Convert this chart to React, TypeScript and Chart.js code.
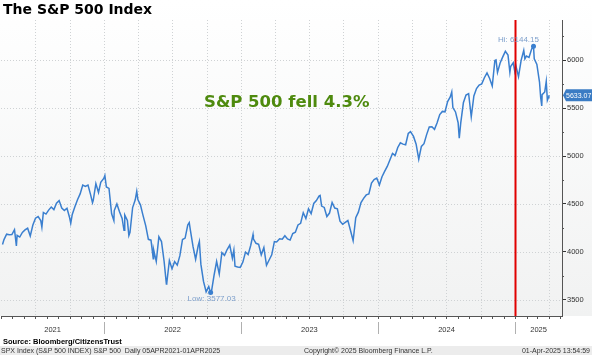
import React, { useEffect, useRef } from "react";
import { Chart, registerables } from "chart.js";

Chart.register(...registerables);

const DATES: string[] = [
  "2021-04-05","2021-04-09","2021-04-16","2021-04-23","2021-04-30","2021-05-07","2021-05-12","2021-05-14","2021-05-21","2021-05-28",
  "2021-06-04","2021-06-11","2021-06-18","2021-06-25","2021-07-02","2021-07-09","2021-07-16","2021-07-19","2021-07-23","2021-07-30",
  "2021-08-06","2021-08-13","2021-08-20","2021-08-27","2021-09-03","2021-09-10","2021-09-17","2021-09-24","2021-10-01","2021-10-04",
  "2021-10-08","2021-10-15","2021-10-22","2021-10-29","2021-11-05","2021-11-12","2021-11-19","2021-11-26","2021-12-01","2021-12-03",
  "2021-12-10","2021-12-17","2021-12-23","2021-12-31",
  "2022-01-03","2022-01-07","2022-01-14","2022-01-21","2022-01-27","2022-01-28","2022-02-04","2022-02-11","2022-02-18","2022-02-23",
  "2022-02-25","2022-03-04","2022-03-08","2022-03-11","2022-03-18","2022-03-25","2022-03-29","2022-04-01","2022-04-08","2022-04-14",
  "2022-04-22","2022-04-29","2022-05-06","2022-05-12","2022-05-13","2022-05-20","2022-05-27","2022-06-03","2022-06-10","2022-06-16",
  "2022-06-17","2022-06-24","2022-07-01","2022-07-08","2022-07-15","2022-07-22","2022-07-29","2022-08-05","2022-08-12","2022-08-16",
  "2022-08-19","2022-08-26","2022-09-02","2022-09-09","2022-09-12","2022-09-16","2022-09-23","2022-09-30","2022-10-07","2022-10-12",
  "2022-10-14","2022-10-21","2022-10-28","2022-11-04","2022-11-11","2022-11-18","2022-11-25","2022-12-02","2022-12-09","2022-12-13",
  "2022-12-16","2022-12-23","2022-12-30",
  "2023-01-06","2023-01-13","2023-01-20","2023-01-27","2023-02-02","2023-02-03","2023-02-10","2023-02-17","2023-02-24","2023-03-03",
  "2023-03-10","2023-03-17","2023-03-24","2023-03-31","2023-04-06","2023-04-14","2023-04-21","2023-04-28","2023-05-05","2023-05-12",
  "2023-05-19","2023-05-26","2023-06-02","2023-06-09","2023-06-16","2023-06-23","2023-06-30","2023-07-07","2023-07-14","2023-07-21",
  "2023-07-28","2023-07-31","2023-08-04","2023-08-11","2023-08-18","2023-08-25","2023-09-01","2023-09-08","2023-09-15","2023-09-22",
  "2023-09-29","2023-10-06","2023-10-13","2023-10-20","2023-10-27","2023-11-03","2023-11-10","2023-11-17","2023-11-24","2023-12-01",
  "2023-12-08","2023-12-15","2023-12-22","2023-12-29",
  "2024-01-05","2024-01-12","2024-01-19","2024-01-26","2024-02-02","2024-02-09","2024-02-16","2024-02-23","2024-03-01","2024-03-08",
  "2024-03-15","2024-03-22","2024-03-28","2024-04-05","2024-04-12","2024-04-19","2024-04-26","2024-05-03","2024-05-10","2024-05-17",
  "2024-05-24","2024-05-31","2024-06-07","2024-06-14","2024-06-21","2024-06-28","2024-07-05","2024-07-12","2024-07-16","2024-07-19",
  "2024-07-26","2024-08-02","2024-08-05","2024-08-09","2024-08-16","2024-08-23","2024-08-30","2024-09-06","2024-09-13","2024-09-20",
  "2024-09-27","2024-10-04","2024-10-11","2024-10-18","2024-10-25","2024-11-01","2024-11-08","2024-11-11","2024-11-15","2024-11-22",
  "2024-11-29","2024-12-06","2024-12-13","2024-12-18","2024-12-20","2024-12-27","2024-12-31",
  "2025-01-03","2025-01-10","2025-01-17","2025-01-24","2025-01-27","2025-01-31","2025-02-07","2025-02-14","2025-02-19","2025-02-21",
  "2025-02-28","2025-03-07","2025-03-10","2025-03-13","2025-03-14","2025-03-21","2025-03-25","2025-03-28","2025-03-31","2025-04-01"
];

const CLOSES: number[] = [
  4077.9,4128.8,4185.5,4180.2,4181.2,4232.6,4063.0,4173.9,4155.9,4204.1,
  4229.9,4247.4,4166.5,4280.7,4352.3,4369.6,4327.2,4258.5,4411.8,4395.3,
  4436.5,4468.0,4441.7,4509.4,4535.4,4458.6,4432.9,4455.5,4357.0,4300.5,
  4391.3,4471.4,4544.9,4605.4,4697.5,4682.9,4697.9,4594.6,4513.0,4538.4,
  4712.0,4620.6,4725.8,4766.2,
  4796.6,4677.0,4662.9,4397.9,4326.5,4431.9,4500.5,4418.6,4348.9,4225.5,
  4384.7,4328.9,4170.7,4204.3,4463.1,4543.1,4631.6,4545.9,4488.3,4392.6,
  4271.8,4131.9,4123.3,3930.1,4023.9,3901.4,4158.2,4108.5,3900.9,3666.8,
  3674.8,3911.7,3825.3,3899.4,3863.2,3961.6,4130.3,4145.2,4280.2,4305.2,
  4228.5,4057.7,3924.3,4067.4,4110.4,3873.3,3693.2,3585.6,3639.7,3577.0,
  3583.1,3752.8,3901.1,3770.6,3992.9,3965.3,4026.1,4071.7,3934.4,4019.7,
  3852.4,3844.8,3839.5,
  3895.1,3999.1,3972.6,4070.6,4179.8,4136.5,4090.5,4079.1,3970.0,4045.6,
  3861.6,3916.6,3971.0,4109.3,4105.0,4137.6,4133.5,4169.5,4136.3,4124.1,
  4192.0,4205.5,4282.4,4298.9,4409.6,4348.3,4450.4,4399.0,4505.4,4536.3,
  4582.2,4589.0,4478.0,4464.1,4369.7,4405.7,4515.8,4457.5,4450.3,4320.1,
  4288.1,4308.5,4327.8,4224.2,4117.4,4358.3,4415.2,4514.0,4559.3,4594.6,
  4604.4,4719.2,4754.6,4769.8,
  4697.2,4783.8,4839.8,4891.0,4958.6,5026.6,5005.6,5088.8,5137.1,5123.7,
  5117.1,5234.2,5254.4,5204.3,5123.4,4967.2,5100.0,5127.8,5222.7,5303.3,
  5304.7,5277.5,5347.0,5431.6,5464.6,5460.5,5567.2,5615.4,5667.2,5505.0,
  5459.1,5346.6,5186.3,5344.2,5554.3,5634.6,5648.4,5408.4,5626.0,5702.6,
  5738.2,5751.1,5815.0,5864.7,5808.1,5728.8,5995.5,6001.4,5870.6,5969.3,
  6032.4,6090.3,6051.1,5872.2,5930.9,5970.8,5881.6,
  5942.5,5827.0,5996.7,6101.2,6012.3,6040.5,6026.0,6114.6,6144.15,6013.1,
  5954.5,5770.2,5614.6,5521.5,5638.9,5667.6,5776.7,5580.9,5611.9,5633.07
];

const Y_TICKS: number[] = [3500, 4000, 4500, 5000, 5500, 6000];
const Y_MINOR: number[] = [3750, 4250, 4750, 5250, 5750, 6250];
const QUARTERS: string[] = [
  "2021-07-01","2021-10-01","2022-01-01","2022-04-01","2022-07-01","2022-10-01","2023-01-01","2023-04-01",
  "2023-07-01","2023-10-01","2024-01-01","2024-04-01","2024-07-01","2024-10-01","2025-01-01","2025-04-01"
];
const YEARS: string[] = ["2021", "2022", "2023", "2024", "2025"];
const YEAR_STARTS: string[] = ["2021-04-01", "2022-01-01", "2023-01-01", "2024-01-01", "2025-01-01"];
const RED_LINE_DATE = "2025-01-02";
const HI_LABEL = "Hi: 6144.15";
const LOW_LABEL = "Low: 3577.03";
const LAST_LABEL = "5633.07";

const ORIGIN = Date.UTC(2021, 3, 1);
const dayOf = (s: string) => {
  const [y, m, d] = s.split("-").map(Number);
  return (Date.UTC(y, m - 1, d) - ORIGIN) / 86400000;
};
const X_MAX = 1496;

const LINE = "#3a7fcf";

const decor = {
  id: "decor",
  beforeDraw(chart: any) {
    const { ctx, chartArea: a, width } = chart;
    ctx.save();
    const g = ctx.createLinearGradient(0, 0, 0, a.bottom);
    g.addColorStop(0, "#ffffff");
    g.addColorStop(1, "#f1f2f2");
    ctx.fillStyle = g;
    ctx.fillRect(0, 0, width, a.bottom);
    ctx.fillStyle = "#ffffff";
    ctx.fillRect(0, a.bottom, width, chart.height - a.bottom);
    ctx.restore();
  },
  beforeDatasetsDraw(chart: any) {
    const { ctx, chartArea: a, scales } = chart;
    const xs = scales.x, ys = scales.y;
    ctx.save();
    ctx.strokeStyle = "#cfd2d4";
    ctx.lineWidth = 1;
    ctx.setLineDash([1, 2]);
    Y_TICKS.forEach((v) => {
      const y = Math.round(ys.getPixelForValue(v)) + 0.5;
      ctx.beginPath();
      ctx.moveTo(a.left, y);
      ctx.lineTo(a.right, y);
      ctx.stroke();
    });
    QUARTERS.forEach((q) => {
      const x = Math.round(xs.getPixelForValue(dayOf(q))) + 0.5;
      ctx.beginPath();
      ctx.moveTo(x, a.top);
      ctx.lineTo(x, a.bottom);
      ctx.stroke();
    });
    ctx.setLineDash([]);
    ctx.strokeStyle = "#555";
    ctx.beginPath();
    ctx.moveTo(a.left, a.bottom + 0.5);
    ctx.lineTo(a.right, a.bottom + 0.5);
    ctx.stroke();
    for (let yy = 2021; yy <= 2025; yy++) {
      for (let mm = 1; mm <= 12; mm++) {
        const d = (Date.UTC(yy, mm - 1, 1) - ORIGIN) / 86400000;
        if (d < 0 || d > X_MAX) continue;
        const x = Math.round(xs.getPixelForValue(d)) + 0.5;
        ctx.beginPath();
        ctx.moveTo(x, a.bottom);
        ctx.lineTo(x, a.bottom + 3);
        ctx.stroke();
      }
    }
    Y_MINOR.forEach((v) => {
      const y = Math.round(ys.getPixelForValue(v)) + 0.5;
      ctx.beginPath();
      ctx.moveTo(a.right, y);
      ctx.lineTo(a.right + 2, y);
      ctx.stroke();
    });
    ctx.strokeStyle = "#b0b0b0";
    YEAR_STARTS.slice(1).forEach((s) => {
      const x = Math.round(xs.getPixelForValue(dayOf(s))) + 0.5;
      ctx.beginPath();
      ctx.moveTo(x, a.bottom + 6);
      ctx.lineTo(x, a.bottom + 18);
      ctx.stroke();
    });
    ctx.fillStyle = "#333";
    ctx.font = "7.5px 'Liberation Sans'";
    ctx.textAlign = "center";
    ctx.textBaseline = "middle";
    YEARS.forEach((y, i) => {
      const x0 = Math.max(a.left, xs.getPixelForValue(dayOf(YEAR_STARTS[i])));
      const x1 = i + 1 < YEAR_STARTS.length ? xs.getPixelForValue(dayOf(YEAR_STARTS[i + 1])) : a.right;
      ctx.fillText(y, (x0 + x1) / 2, a.bottom + 14);
    });
    ctx.restore();
  },
  afterDatasetsDraw(chart: any) {
    const { ctx, chartArea: a, scales } = chart;
    const xs = scales.x, ys = scales.y;
    ctx.save();
    const rx = xs.getPixelForValue(dayOf(RED_LINE_DATE));
    ctx.strokeStyle = "#e00000";
    ctx.lineWidth = 2;
    ctx.beginPath();
    ctx.moveTo(rx, a.top);
    ctx.lineTo(rx, a.bottom);
    ctx.stroke();
    let hi = 0, lo = 0;
    CLOSES.forEach((v, i) => {
      if (v > CLOSES[hi]) hi = i;
      if (v < CLOSES[lo]) lo = i;
    });
    const hx = xs.getPixelForValue(dayOf(DATES[hi])), hy = ys.getPixelForValue(CLOSES[hi]);
    const lx = xs.getPixelForValue(dayOf(DATES[lo])), ly = ys.getPixelForValue(CLOSES[lo]);
    ctx.fillStyle = LINE;
    [[hx, hy], [lx, ly]].forEach(([x, y]) => {
      ctx.beginPath();
      ctx.arc(x, y, 2.5, 0, Math.PI * 2);
      ctx.fill();
    });
    ctx.fillStyle = "#7d9fcb";
    ctx.font = "8px 'Liberation Sans'";
    ctx.textAlign = "center";
    ctx.textBaseline = "middle";
    ctx.fillText(HI_LABEL, hx - 15, hy - 6);
    ctx.fillText(LOW_LABEL, lx + 1, ly + 6);
    const last = CLOSES[CLOSES.length - 1];
    const by = ys.getPixelForValue(last);
    ctx.fillStyle = "#3b7cc4";
    ctx.beginPath();
    ctx.moveTo(a.right + 1, by);
    ctx.lineTo(a.right + 4, by - 6);
    ctx.lineTo(chart.width, by - 6);
    ctx.lineTo(chart.width, by + 6);
    ctx.lineTo(a.right + 4, by + 6);
    ctx.closePath();
    ctx.fill();
    ctx.fillStyle = "#ffffff";
    ctx.font = "7px 'Liberation Sans'";
    ctx.textAlign = "left";
    ctx.fillText(LAST_LABEL, a.right + 4, by + 0.5);
    ctx.restore();
  },
};

export default function App() {
  const ref = useRef<HTMLCanvasElement | null>(null);
  useEffect(() => {
    document.body.style.margin = "0";
    const points = DATES.map((d, i) => ({ x: dayOf(d), y: CLOSES[i] }));
    const chart = new Chart(ref.current as HTMLCanvasElement, {
      type: "line",
      data: {
        datasets: [
          {
            data: points,
            borderColor: LINE,
            borderWidth: 1.5,
            pointRadius: 0,
            tension: 0,
          },
        ],
      },
      options: {
        responsive: false,
        animation: false,
        events: [],
        layout: { padding: { top: 20, left: 1, right: 0, bottom: 0 } },
        plugins: { legend: { display: false }, tooltip: { enabled: false } },
        scales: {
          x: {
            type: "linear",
            min: 0,
            max: X_MAX,
            grid: { display: false },
            border: { display: false },
            ticks: { display: false },
            afterFit: (s: any) => {
              s.height = 39;
            },
          },
          y: {
            position: "right",
            min: 3333.3,
            max: 6416.7,
            afterBuildTicks: (s: any) => {
              s.ticks = Y_TICKS.map((v) => ({ value: v }));
            },
            afterFit: (s: any) => {
              s.width = 30;
            },
            grid: { display: true, drawOnChartArea: false, drawTicks: true, tickLength: 4, color: "#333" },
            border: { display: true, color: "#555" },
            ticks: {
              color: "#333",
              font: { family: "'Liberation Sans'", size: 7.5 },
              padding: 1,
              callback: (v: any) => String(v),
            },
          },
        },
      } as any,
      plugins: [decor],
    });
    return () => chart.destroy();
  }, []);

  return (
    <div style={{ position: "relative", width: 592, height: 355, overflow: "hidden", background: "#fff" }}>
      <canvas ref={ref} width={592} height={355} style={{ position: "absolute", left: 0, top: 0 }} />
      <div style={{ position: "absolute", left: 3, top: 1, font: "bold 14px 'DejaVu Sans'", color: "#000", whiteSpace: "nowrap" }}>
        The S&amp;P 500 Index
      </div>
      <div style={{ position: "absolute", left: 204, top: 92, font: "bold 16.5px 'DejaVu Sans'", color: "#4e8a0e", whiteSpace: "nowrap" }}>
        S&amp;P 500 fell 4.3%
      </div>
      <div style={{ position: "absolute", left: 3, top: 337, font: "bold 7.5px 'Liberation Sans'", color: "#000", whiteSpace: "nowrap" }}>
        Source: Bloomberg/CitizensTrust
      </div>
      <div style={{ position: "absolute", left: 0, top: 346, width: 592, height: 9, background: "#ececec", font: "7px 'Liberation Sans'", color: "#333", lineHeight: "9px", whiteSpace: "nowrap" }}>
        <span style={{ position: "absolute", left: 1 }}>SPX Index (S&amp;P 500 INDEX) S&amp;P 500&nbsp;&nbsp;Daily 05APR2021-01APR2025</span>
        <span style={{ position: "absolute", left: 304 }}>Copyright© 2025 Bloomberg Finance L.P.</span>
        <span style={{ position: "absolute", right: 2 }}>01-Apr-2025 13:54:59</span>
      </div>
    </div>
  );
}
